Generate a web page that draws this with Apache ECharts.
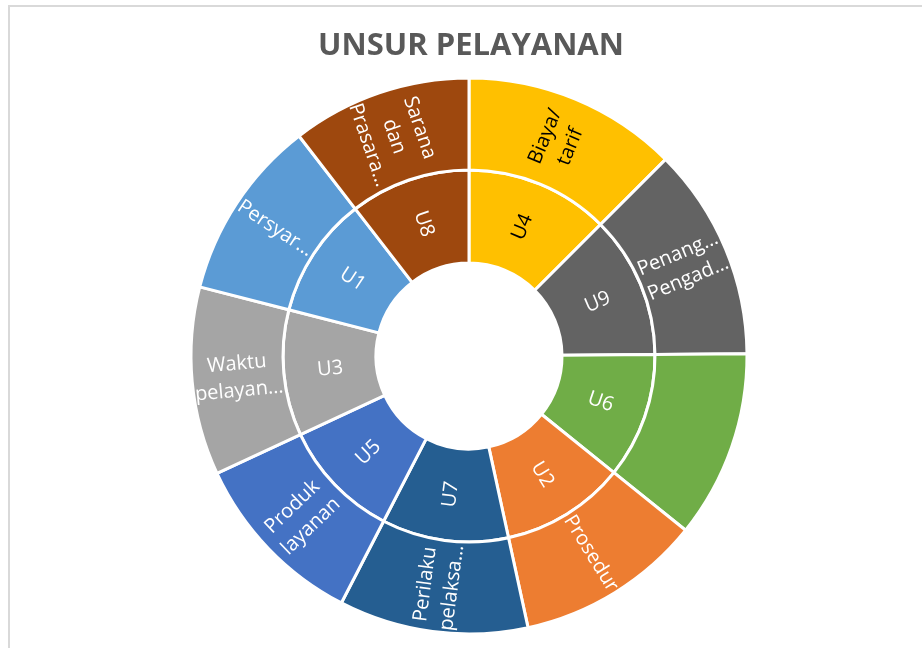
<!DOCTYPE html>
<html>
<head>
<meta charset="utf-8">
<script src="https://cdn.jsdelivr.net/npm/echarts@6/dist/echarts.min.js"></script>
<style>
  html, body { margin: 0; padding: 0; background: #fff; }
  #main { width: 922px; height: 648px; }
</style>
</head>
<body>
<div id="main"></div>
<script>
// unsur codes in the order they are drawn (clockwise from 12 o'clock)
var codes = ['U4', 'U9', 'U6', 'U2', 'U7', 'U5', 'U3', 'U1', 'U8'];
var values = [4.00, 3.96, 3.49, 3.46, 3.52, 3.35, 3.50, 3.37, 3.35];
var names = [
  'Biaya/tarif', 'Penanganan Pengaduan', 'Kompetensi pelaksana', 'Prosedur',
  'Perilaku pelaksana', 'Produk layanan', 'Waktu pelayanan', 'Persyaratan',
  'Sarana dan Prasarana'
];
// what is shown in the outer ring (wrapped / cut like the original)
var outerLabels = [
  'Biaya/\ntarif', 'Penang…\nPengad…', '', 'Prosedur',
  'Perilaku\npelaksa…', 'Produk\nlayanan', 'Waktu\npelayan…', 'Persyar…',
  'Sarana\ndan\nPrasara…'
];

var colors = ['#FFC000', '#636363', '#70AD47', '#ED7D31', '#255E91', '#4472C4', '#A5A5A5', '#5B9BD5', '#9E480E'];
var textColors = ['#000', '#fff', '#fff', '#fff', '#fff', '#fff', '#fff', '#fff', '#fff'];

var data = codes.map(function (c, i) {
  return {
    name: c,
    value: values[i],
    itemStyle: { color: colors[i] },
    label: { color: textColors[i] },
    children: [{
      name: names[i],
      value: values[i],
      itemStyle: { color: colors[i] },
      label: {
        show: outerLabels[i] !== '',
        color: textColors[i],
        formatter: outerLabels[i]
      }
    }]
  };
});

var myChart = echarts.init(document.getElementById('main'));
var option = {
  animation: false,
  title: {
    text: 'UNSUR PELAYANAN',
    left: 466,
    textAlign: 'center',
    top: 26,
    textStyle: {
      fontFamily: 'Open Sans',
      fontSize: 31,
      fontWeight: 'bold',
      color: '#595959'
    }
  },
  graphic: [{
    type: 'rect',
    shape: { x: 9, y: 6, width: 1000, height: 1000 },
    style: { fill: 'none', stroke: '#d9d9d9', lineWidth: 2 },
    silent: true
  }],
  series: [{
    type: 'sunburst',
    center: [469, 356],
    radius: [93, 278],
    sort: null,
    nodeClick: false,
    startAngle: 90,
    clockwise: true,
    emphasis: { focus: 'none' },
    itemStyle: { borderColor: '#fff', borderWidth: 3 },
    label: {
      rotate: 'radial',
      fontFamily: 'Open Sans',
      fontSize: 20,
      lineHeight: 27,
      color: '#fff'
    },
    levels: [
      {},
      { r0: 93, r: 186 },
      { r0: 186, r: 278 }
    ],
    data: data
  }]
};
myChart.setOption(option);
</script>
</body>
</html>
